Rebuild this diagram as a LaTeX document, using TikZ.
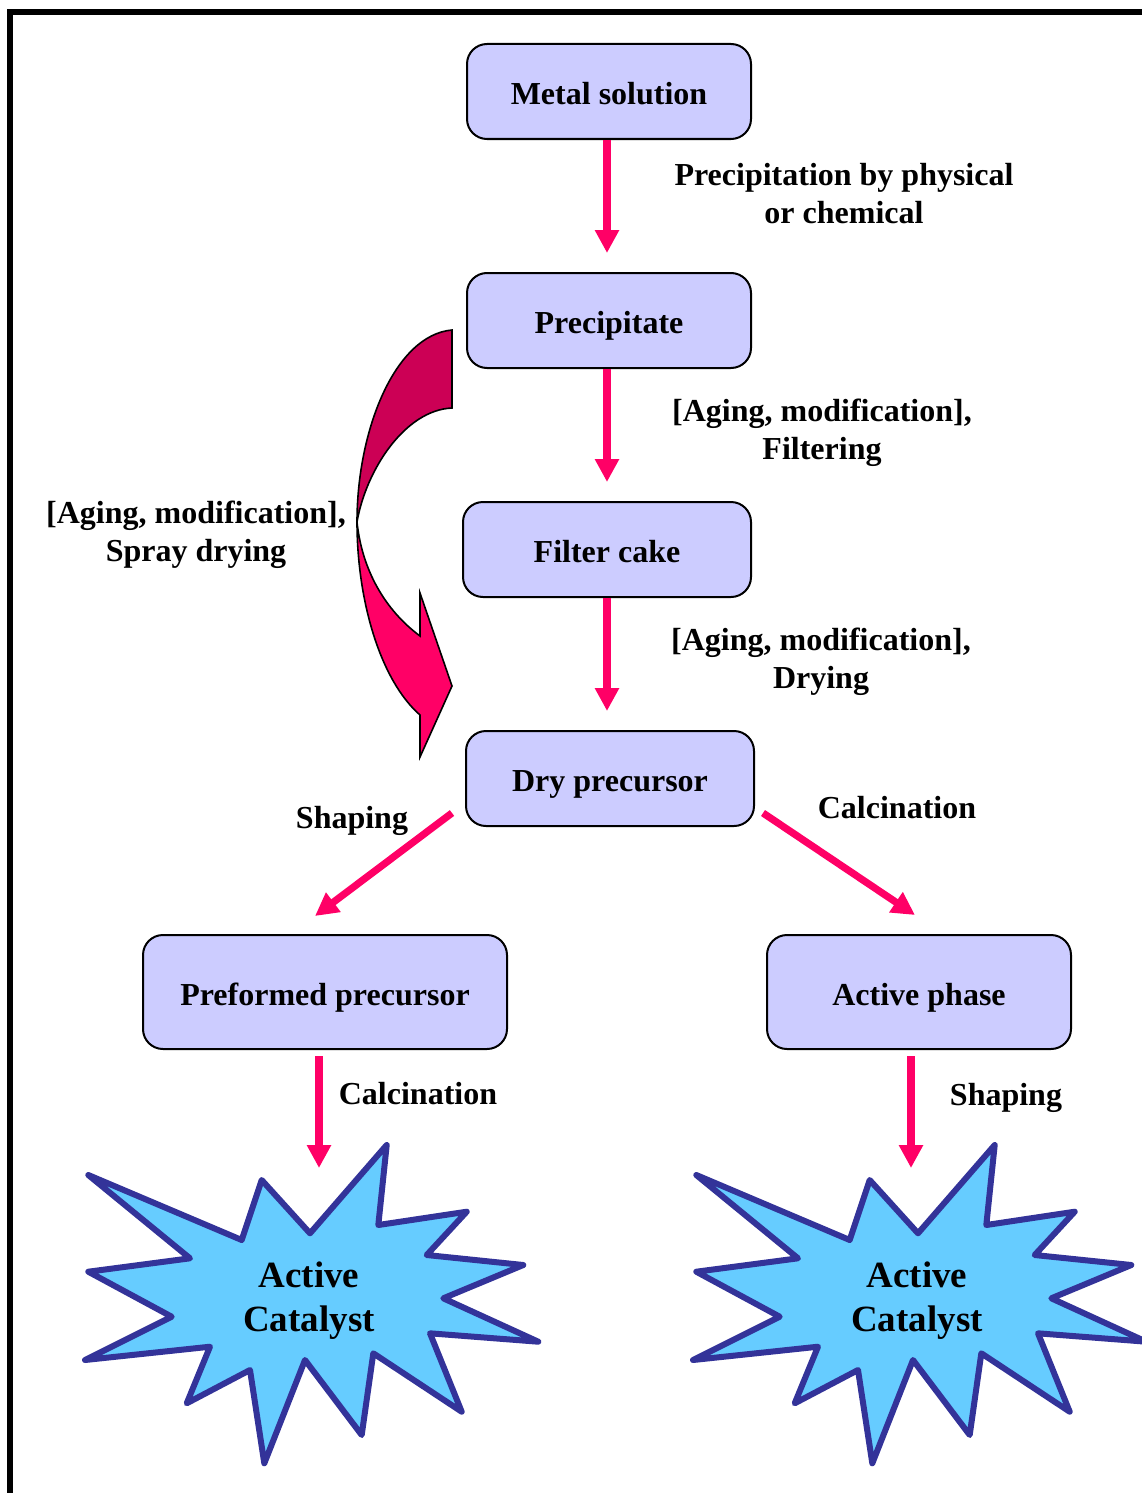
\documentclass[tikz,border=0pt]{standalone}
\usepackage{fontspec}
\setmainfont{Liberation Serif}
\usetikzlibrary{arrows.meta}
\definecolor{boxfill}{HTML}{CCCCFF}
\definecolor{flowpink}{HTML}{FF0066}
\definecolor{flowdark}{HTML}{CC0055}
\definecolor{burstfill}{HTML}{66CCFF}
\definecolor{burstline}{HTML}{333399}
\tikzset{
  procbox/.style={draw=black,line width=1pt,fill=boxfill,rounded corners=10pt,
    minimum width=142pt,minimum height=47.5pt,text height=14pt,text depth=1pt,
    font=\fontsize{16}{19}\selectfont\bfseries},
  lbl/.style={align=center,font=\fontsize{16}{19}\selectfont\bfseries},
  catlbl/.style={align=center,yshift=-2pt,font=\fontsize{18.5}{22}\selectfont\bfseries},
  flow/.style={flowpink,line width=3.6pt,-{Triangle[width=11.5pt,length=11.5pt]}},
  burst/.style={draw=burstline,fill=burstfill,line width=3pt,line join=round}
}
\begin{document}
\begin{tikzpicture}[x=0.5pt,y=-0.5pt]
  \useasboundingbox (0,0) rectangle (1141,1493);
  % frame
  \draw[line width=3pt] (10,1500) -- (10,12.5) -- (1150,12.5);
  % process boxes
  \node[procbox] (ms) at (609,91.5) {Metal solution};
  \node[procbox] (pr) at (609,320.5) {Precipitate};
  \node[procbox,minimum width=144pt] (fc) at (607,549.5) {Filter cake};
  \node[procbox,minimum width=144pt] (dp) at (610,778.5) {Dry precursor};
  \node[procbox,minimum width=182pt,minimum height=57pt] (pf) at (325,992) {Preformed precursor};
  \node[procbox,minimum width=152pt,minimum height=57pt] (ap) at (919,992) {Active phase};
  % straight arrows
  \coordinate (t1) at (607,253);
  \coordinate (t2) at (607,482);
  \coordinate (t3) at (607,711);
  \draw[flow] (ms.south -| t1) -- (t1);
  \draw[flow] (pr.south -| t2) -- (t2);
  \draw[flow] (fc.south -| t3) -- (t3);
  \coordinate (dl) at (452,813);
  \coordinate (dr) at (763,813);
  \coordinate (t4) at (315,916);
  \coordinate (t5) at (915,915);
  \draw[flow] (dl) -- (t4);
  \draw[flow] (dr) -- (t5);
  \coordinate (t6) at (319,1168);
  \coordinate (t7) at (911,1168);
  \draw[flow] ([yshift=-3pt]pf.south -| t6) -- (t6);
  \draw[flow] ([yshift=-3pt]ap.south -| t7) -- (t7);
  % curved block arrow
  \draw[fill=flowdark,line width=0.8pt] (452,330) .. controls (395,335) and (357,430) .. (357,522)
     .. controls (366,470) and (405,410) .. (452,408) -- cycle;
  \draw[fill=flowpink,line width=0.8pt,line join=miter] (357,522) .. controls (357,600) and (380,680) .. (420,715)
     -- (420,757) -- (452,686) -- (420,593) -- (420,636)
     .. controls (385,610) and (362,570) .. (357,522) -- cycle;
  % labels
  \node[lbl] (l1) at (844,194) {Precipitation by physical\\or chemical};
  \node[lbl,yshift=-2pt] (l2) at (822,429) {[Aging, modification],\\Filtering};
  \node[lbl,yshift=-2pt] (l3) at (821,658) {[Aging, modification],\\Drying};
  \node[lbl,yshift=-2pt] (l4) at (196,531) {[Aging, modification],\\Spray drying};
  \node[lbl,yshift=-2pt] (l5) at (352,817) {Shaping};
  \node[lbl] (l6) at (897,808) {Calcination};
  \node[lbl] (l7) at (418,1094) {Calcination};
  \node[lbl,yshift=-2pt] (l8) at (1006,1094) {Shaping};
  % catalyst bursts
  \foreach \dx/\nm in {0/catL,608/catR} {
    \draw[burst,shift={(\dx,0)}] (88.3,1175) -- (241.7,1240) -- (261.7,1180) -- (310,1233.3)
      -- (386.7,1145) -- (378.3,1225) -- (466.7,1211.7) -- (426.7,1255) -- (523.3,1265)
      -- (443.3,1298.3) -- (538.3,1341.7) -- (430,1333.3) -- (461.7,1411.7) -- (373.3,1353.3)
      -- (361.7,1435) -- (305,1360) -- (264.3,1463.3) -- (250,1370) -- (186.7,1403.3)
      -- (210,1346.7) -- (85,1360) -- (171.7,1316.7) -- (88.3,1271.7) -- (190,1258.3) -- cycle;
    \node[catlbl] (\nm) at (309+\dx,1297) {Active\\Catalyst};
  }
\end{tikzpicture}
\end{document}
